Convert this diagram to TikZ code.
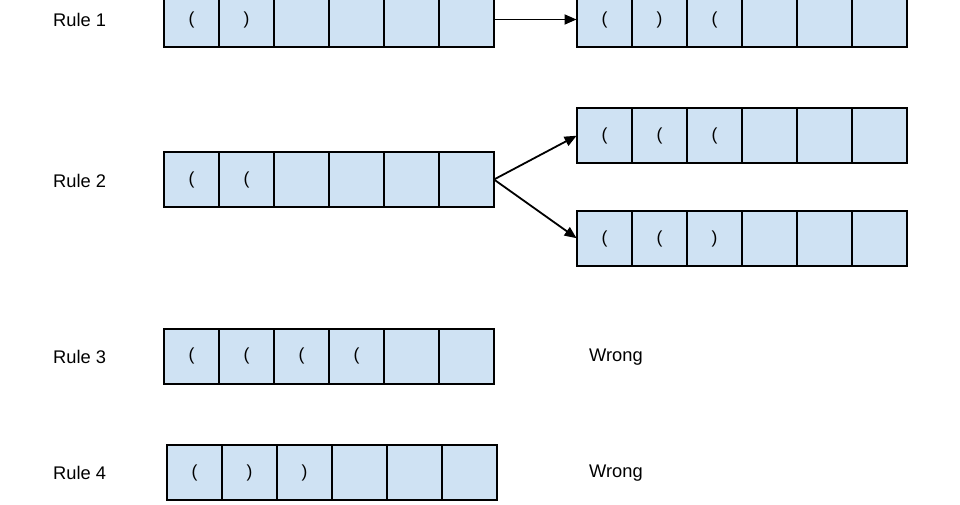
\documentclass[tikz,border=0pt]{standalone}
\usepackage{fontspec}
\setmainfont{Liberation Sans}
\usetikzlibrary{arrows.meta}
\definecolor{cellblue}{HTML}{CFE2F3}
\newcommand\lpar{(}
\newcommand\rpar{)}
\newcommand\cellrow[4]{%
  \foreach \t [count=\i] in {#4} {
    \node[cellbox] (#1-\i) at ({#2+27.5+55*(\i-1)}, #3) {\t};
  }%
}
\tikzset{
  cellbox/.style={draw=black, fill=cellblue, line width=2pt, minimum width=55pt, minimum height=55pt,
    inner sep=0pt, outer sep=0pt, font=\fontsize{17.5}{19}\selectfont},
  lbl/.style={anchor=west, inner sep=0pt, font=\fontsize{18.3}{20}\selectfont},
  conn/.style={line width=1.8pt, -{Triangle[length=12pt,width=10pt]}, shorten >=0.5pt}
}
\begin{document}
\begin{tikzpicture}[x=1pt,y=1pt]
\useasboundingbox (0,0) rectangle (960,504);
% labels
\node[lbl] (l1) at (53,484) {Rule 1};
\node[lbl] (l2) at (53,323.5) {Rule 2};
\node[lbl] (l3) at (53,147) {Rule 3};
\node[lbl] (l4) at (53,31) {Rule 4};
\node[lbl] (w3) at (589,147) {Wrong};
\node[lbl] (w4) at (589,31) {Wrong};
% rows
\cellrow{ra}{164}{484.5}{\lpar,\rpar,{},{},{},{}}
\cellrow{rb}{577}{484.5}{\lpar,\rpar,\lpar,{},{},{}}
\cellrow{sa}{164}{324.5}{\lpar,\lpar,{},{},{},{}}
\cellrow{sb}{577}{368.5}{\lpar,\lpar,\lpar,{},{},{}}
\cellrow{sc}{577}{265.5}{\lpar,\lpar,\rpar,{},{},{}}
\cellrow{ta}{164}{148}{\lpar,\lpar,\lpar,\lpar,{},{}}
\cellrow{ua}{167}{31.5}{\lpar,\rpar,\rpar,{},{},{}}
% connectors
\draw[conn] (ra-6.east) -- (rb-1.west);
\draw[conn] (sa-6.east) -- (sb-1.west);
\draw[conn] (sa-6.east) -- (sc-1.west);
\end{tikzpicture}
\end{document}
